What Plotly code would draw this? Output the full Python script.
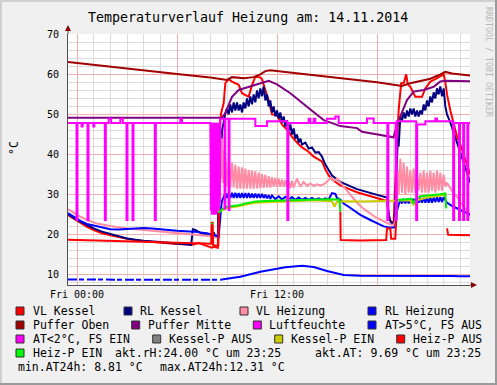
import plotly.graph_objects as go

# ---------------- figure geometry ----------------
W_FIG, H_FIG = 497, 385
L, R, T, B = 68, 27, 34, 100

title_text = "Temperaturverlauf Heizung am: 14.11.2014"
x_tickvals = [0, 6, 12, 18]
x_ticktext = ["Fri 00:00", "", "Fri 12:00", ""]
y_tickvals = [10, 20, 30, 40, 50, 60, 70]
x_range = [-0.54, 23.58]
y_range = [7.5, 70.05]

# ---------------- data (hours since Fri 00:00, °C) ----------------
vl_kessel = [(-0.54,24.9),(-0.2,24.0),(0.2,23.0),(0.6,22.0),(1.0,21.2),(1.5,20.4),(2.0,19.9),(2.5,19.4),(3.0,19.0),(4.0,18.4),
             (5.0,18.0),(6.0,17.7),(7.0,17.6),(7.3,18.0),(7.6,17.5),(7.9,17.0),(8.1,16.8),(8.2,17.0),(8.3,16.9),(8.45,16.8),
             (8.5,30.0),(8.55,47.0),(8.65,50.4),(8.8,52.8),(8.9,57.8),(9.1,58.8),(9.3,58.2),(9.7,57.4),(9.9,55.3),(10.3,54.4),
             (10.5,57.3),(10.7,59.4),(11.0,59.2),(11.1,58.8),(11.3,56.1),(11.5,53.5),(11.7,50.0),(12.0,49.8),(12.3,47.5),(12.6,46.2),
             (12.9,44.5),(13.2,43.0),(13.5,41.8),(13.8,41.0),(14.2,39.5),(14.7,38.3),(14.9,36.3),(15.1,34.8),(15.3,33.8),(15.8,32.3),
             (16.8,30.6),(17.8,29.4),(18.6,28.4),(18.7,25.0),(18.8,23.5),(19.0,23.0),(19.05,28.0),(19.1,36.0),(19.2,43.6),(19.3,51.1),
             (19.45,57.8),(19.6,57.8),(19.75,60.0),(19.85,57.5),(20.0,56.9),(20.3,54.4),(20.7,54.4),(20.9,56.5),(21.2,58.2),(21.5,58.8),
             (21.8,59.5),(22.0,60.0),(22.1,58.0),(22.2,55.0),(22.4,51.0),(22.6,48.0),(22.8,44.5),(23.0,42.5),(23.2,40.0),(23.4,37.5),(23.6,35.0)]

rl_kessel = [(-0.54,25.2),(-0.2,24.2),(0.2,23.3),(0.6,22.4),(1.0,21.6),(1.5,20.8),(2.0,20.2),(2.5,19.6),(3.0,19.1),(3.5,18.8),
             (4.0,18.5),(5.0,18.2),(6.0,17.8),(6.85,17.5),(6.95,21.4),(7.1,21.2),(7.4,20.5),(7.8,19.9),(8.1,19.7),(8.2,20.6),
             (8.3,19.6),(8.45,19.5),(8.5,30.0),(8.55,38.0),(8.6,42.0),(8.65,39.0),(8.7,46.0),(8.8,48.0),(8.9,50.3),
             (9.0,51.5),(9.1,50.0),(9.2,52.5),(9.3,50.5),(9.4,53.0),(9.5,51.0),(9.6,53.0),(9.7,51.0),(9.8,52.5),(9.9,50.5),
             (10.0,53.0),(10.1,51.5),(10.2,54.0),(10.3,52.0),(10.4,54.5),(10.5,52.5),(10.6,55.0),(10.7,53.0),(10.8,56.0),(10.9,54.0),
             (11.0,56.5),(11.1,54.5),(11.2,57.0),(11.3,53.5),(11.4,55.0),(11.5,52.0),(11.6,53.5),(11.7,50.5),(11.8,52.0),(11.9,49.5),
             (12.0,51.0),(12.1,49.0),(12.2,50.5),(12.3,48.0),(12.4,49.5),(12.5,47.0),(12.6,48.5),(12.7,46.0),(12.8,47.5),(12.9,45.0),
             (13.0,46.5),(13.1,44.0),(13.2,45.0),(13.3,43.0),(13.4,44.0),(13.5,42.5),(13.7,43.0),(13.9,41.5),(14.1,41.8),(14.3,40.5),
             (14.5,40.6),(14.7,39.5),(14.9,37.5),(15.1,36.0),(15.3,34.8),(15.8,33.2),(16.8,31.4),(17.8,30.2),(18.6,29.3),(18.65,27.0),
             (18.75,24.0),(18.85,23.0),(19.0,22.8),(19.05,23.5),(19.1,30.0),(19.15,36.0),(19.2,40.0),(19.25,44.0),(19.3,42.0),(19.35,47.0),
             (19.4,49.5),(19.5,48.5),(19.6,50.5),(19.7,49.0),(19.8,51.0),(19.9,49.5),(20.0,51.5),(20.1,50.0),(20.2,51.5),(20.3,49.5),
             (20.4,51.0),(20.5,49.5),(20.6,51.0),(20.7,50.0),(20.8,52.5),(20.9,51.0),(21.0,53.5),(21.1,52.0),(21.2,54.5),(21.3,53.0),
             (21.4,55.5),(21.5,54.0),(21.6,56.5),(21.7,55.0),(21.8,57.0),(21.9,54.5),(22.0,56.5),(22.1,52.0),(22.2,50.0),(22.4,48.0),
             (22.6,45.5),(22.8,43.0),(23.0,40.5),(23.2,38.0),(23.4,35.5),(23.6,33.0)]

vl_heizung = [(-0.54,26.4),(0.0,25.0),(0.6,23.7),(1.2,22.8),(2.0,22.2),(3.0,21.6),(4.0,21.2),(5.0,20.8),(6.0,20.4),(7.0,20.0),
              (7.8,19.7),(8.2,19.6),(8.5,19.5),(8.55,32.0),(8.6,45.0),(8.65,34.0),(8.7,44.0),(8.75,33.0),(8.8,41.0),(8.85,32.5),
              (8.9,39.5),(9.0,32.0),(9.1,38.5),(9.2,31.8),(9.3,38.0),(9.4,31.8),(9.5,37.5),(9.6,31.5),(9.7,37.0),(9.8,31.5),
              (9.9,36.8),(10.0,31.5),(10.1,36.5),(10.2,31.5),(10.3,36.2),(10.4,31.5),(10.5,36.0),(10.6,31.5),(10.7,35.8),(10.8,31.6),
              (10.9,35.5),(11.0,31.6),(11.1,35.2),(11.2,31.7),(11.3,35.0),(11.4,31.8),(11.5,34.6),(11.6,31.8),(11.7,34.4),(11.8,32.0),
              (11.9,34.2),(12.0,32.0),(12.1,34.0),(12.2,32.0),(12.3,33.8),(12.4,32.0),(12.5,33.6),(12.6,32.0),(12.7,33.5),(12.8,31.6),
              (12.9,33.4),(13.0,31.8),(13.2,34.0),(13.4,32.0),(13.6,33.2),(13.8,32.2),(14.0,32.8),(14.2,32.2),(14.4,32.6),(14.6,32.3),
              (14.8,32.6),(15.0,33.2),(15.2,34.2),(15.4,33.4),(15.6,34.0),(15.8,33.0),(16.0,32.0),(16.2,31.0),(16.5,29.5),(16.8,28.0),
              (17.1,26.8),(17.4,25.8),(17.7,25.0),(18.0,24.2),(18.3,23.6),(18.6,23.0),(18.8,22.6),(19.0,22.5),(19.1,23.5),(19.2,28.0),
              (19.25,36.0),(19.3,30.0),(19.4,39.0),(19.5,30.5),(19.6,38.0),(19.7,30.0),(19.8,37.0),(19.9,30.5),(20.0,36.0),(20.1,30.5),
              (20.2,36.5),(20.3,30.5),(20.4,35.0),(20.5,31.0),(20.6,35.5),(20.7,30.5),(20.8,36.0),(20.9,30.5),(21.0,35.5),(21.1,30.5),
              (21.2,36.0),(21.3,31.0),(21.4,35.5),(21.5,30.5),(21.6,36.0),(21.7,31.0),(21.8,35.5),(21.9,31.0),(22.0,35.0),(22.1,32.0),
              (22.2,33.0),(22.5,31.0),(22.8,29.5),(23.1,27.5),(23.4,26.0),(23.6,25.0)]

rl_heizung = [(-0.54,25.4),(-0.2,24.5),(0.2,23.5),(0.6,22.7),(1.0,22.3),(1.5,21.8),(2.0,21.4),(2.5,21.3),(3.0,21.4),(3.5,21.6),
              (4.0,21.7),(4.5,21.6),(5.0,21.4),(6.0,21.0),(7.0,20.8),(7.8,20.4),(8.4,19.7),(8.5,19.5),(8.55,22.0),(8.6,26.0),
              (8.65,27.0),(8.7,28.5),(8.8,29.5),(8.9,30.4),(9.0,29.2),(9.1,30.5),(9.2,29.2),(9.3,30.5),(9.4,29.2),(9.5,30.5),
              (9.6,29.2),(9.7,30.4),(9.8,29.2),(9.9,30.4),(10.0,29.2),(10.1,30.4),(10.2,29.2),(10.3,30.4),(10.4,29.2),(10.5,30.3),
              (10.6,29.2),(10.7,30.3),(10.8,29.2),(10.9,30.2),(11.0,29.2),(11.1,30.2),(11.2,29.2),(11.3,30.0),(11.4,29.1),(11.5,29.9),
              (11.6,29.0),(11.7,29.8),(11.9,28.9),(12.1,29.6),(12.3,28.8),(12.5,29.5),(12.7,28.8),(12.9,29.4),(13.1,28.7),(13.3,29.3),
              (13.5,28.7),(13.7,29.2),(13.9,28.7),(14.1,29.2),(14.3,28.7),(14.5,29.1),(14.7,28.7),(14.9,29.1),(15.1,28.8),(15.3,30.4),
              (15.5,30.2),(15.6,29.2),(15.8,28.8),(16.0,27.8),(16.3,27.0),(16.6,26.2),(17.0,25.0),(17.6,23.7),(18.0,23.0),(18.4,22.1),
              (18.8,21.8),(19.0,21.8),(19.1,22.0),(19.2,26.0),(19.3,27.5),(19.4,28.8),(19.5,27.8),(19.6,29.0),(19.7,27.8),(19.8,29.0),
              (19.9,27.8),(20.0,29.0),(20.1,27.8),(20.2,29.0),(20.3,27.8),(20.4,29.0),(20.5,28.0),(20.6,29.2),(20.7,28.0),(20.8,29.2),
              (20.9,28.0),(21.0,29.2),(21.1,28.0),(21.2,29.3),(21.3,28.0),(21.4,29.3),(21.5,28.2),(21.6,29.4),(21.7,28.2),(21.8,29.4),
              (21.9,28.2),(22.0,29.4),(22.1,28.6),(22.2,28.0),(22.5,27.2),(22.8,26.5),(23.1,26.0),(23.4,25.4),(23.6,25.0)]

puffer_oben = [(-0.54,63.1),(2.0,62.0),(4.0,61.0),(6.0,60.1),(8.0,59.2),(8.6,58.9),(9.0,58.6),(9.3,59.3),(9.6,59.2),(10.0,59.0),
               (10.6,59.3),(11.0,60.0),(11.3,60.8),(11.6,61.0),(12.5,60.6),(14.0,59.9),(16.0,59.0),(18.0,58.0),(19.0,57.4),(19.5,57.1),
               (20.0,57.8),(20.6,58.3),(21.2,58.9),(21.8,60.0),(22.1,60.6),(22.5,60.2),(23.0,59.9),(23.6,59.7)]

puffer_mitte = [(-0.54,49.2),(8.7,49.2),(8.9,50.3),(9.3,54.4),(9.7,56.1),(10.3,56.9),(11.1,58.0),(11.5,58.4),(12.0,57.5),(12.8,55.3),
                (13.8,51.9),(14.8,48.6),(15.8,47.1),(16.8,46.6),(17.1,45.7),(18.0,45.0),(19.0,44.3),(19.1,46.0),(19.4,49.5),(19.8,53.6),
                (20.2,55.7),(20.8,56.1),(21.4,56.9),(21.8,58.2),(22.1,58.4),(23.6,58.3)]

luftfeuchte = [(-0.54,47.9),(-0.03,47.9),(-0.03,23.7),(0.03,23.7),(0.03,47.9),
               (0.28,47.9),(0.28,47.0),(0.34,47.0),(0.34,47.9),
               (0.63,47.9),(0.63,23.7),(0.69,23.7),(0.69,47.9),
               (0.98,47.9),(0.98,47.0),(1.04,47.0),(1.04,47.9),
               (1.67,47.9),(1.67,23.7),(1.73,23.7),(1.73,47.9),
               (1.9,47.9),(1.9,48.9),(2.05,48.9),(2.05,47.9),
               (2.6,47.9),(2.6,48.9),(2.75,48.9),(2.75,47.9),
               (2.97,47.9),(2.97,23.7),(3.03,23.7),(3.03,47.9),
               (3.33,47.9),(3.33,23.7),(3.39,23.7),(3.39,47.9),
               (4.67,47.9),(4.67,23.7),(4.73,23.7),(4.73,47.9),
               (6.2,47.9),(6.2,48.9),(6.3,48.9),(6.3,47.9),
               (8.0,47.9),(8.03,26.0),(8.06,47.9),(8.09,25.0),(8.12,47.9),(8.15,25.5),(8.18,47.9),(8.21,25.0),(8.24,47.9),
               (8.27,26.5),(8.30,47.9),(8.33,25.0),(8.36,47.9),(8.39,25.5),(8.42,47.9),(8.45,27.0),(8.48,47.9),(8.51,26.0),
               (8.54,47.9),(8.57,28.0),(8.60,48.9),
               (8.85,48.9),(8.85,26.5),(8.9,26.5),(8.9,48.9),
               (9.1,48.9),(9.1,26.2),(9.15,26.2),(9.15,48.9),
               (10.7,48.9),(10.7,47.1),(11.4,47.1),(11.4,48.3),
               (12.62,48.3),(12.62,23.7),(12.68,23.7),(12.68,47.9),
               (13.9,47.9),(13.9,48.9),(14.0,48.9),(14.0,47.9),
               (14.2,47.9),(14.2,48.9),(14.3,48.9),(14.3,47.9),
               (15.0,47.9),(15.0,48.9),(15.5,48.9),(15.5,49.5),(15.7,49.5),(15.7,47.9),
               (17.4,47.9),(17.4,49.0),(17.8,49.0),(17.8,47.9),
               (18.62,47.9),(18.62,23.7),(18.68,23.7),(18.68,47.9),
               (19.12,47.9),(19.12,23.7),(19.18,23.7),(19.18,48.3),
               (20.35,48.3),(20.35,23.7),(20.41,23.7),(20.41,47.5),
               (20.9,47.5),(20.9,48.3),(21.5,48.3),(21.5,49.0),(21.6,49.0),(21.6,48.3),
               (22.57,48.3),(22.57,23.7),(22.63,23.7),(22.63,47.9),
               (22.92,47.9),(22.92,23.7),(22.98,23.7),(22.98,47.9),
               (23.17,47.9),(23.17,23.7),(23.23,23.7),(23.23,47.9),
               (23.42,47.9),(23.42,23.7),(23.48,23.7),(23.48,47.9),(23.6,47.9)]

heiz_p_aus = [(-0.54,18.8),(2.0,18.6),(4.0,18.3),(6.0,18.0),(7.0,17.9),(8.05,17.8),(8.08,23.0),(8.14,23.0),(8.17,17.4),(8.48,17.3),
              (8.52,25.5),(None,None),
              (15.8,25.8),(15.82,18.7),(17.0,18.6),(18.55,18.7),(18.6,21.6),(18.8,21.6),(18.85,19.0),(19.1,19.0),(19.15,24.0),
              (None,None),
              (22.2,21.6),(22.27,20.0),(23.6,19.9)]

heiz_p_ein = [(8.08,22.7),(8.14,23.0),(None,None),
              (8.52,25.5),(8.7,26.4),(9.0,27.0),(9.7,27.4),(10.2,27.9),(10.7,28.3),(11.7,28.5),(12.5,28.6),(13.5,28.8),
              (14.3,28.9),(15.0,28.9),(15.75,28.8),(15.8,25.8),(None,None),
              (19.15,24.0),(19.2,28.7),(19.8,28.9),(20.1,29.0),(20.2,27.8),(20.35,29.0),(20.6,29.6),(21.2,29.8),(21.8,30.1),
              (22.1,30.3),(22.15,26.6)]

kessel_p_ein = [(8.05,25.8),(8.6,26.0),(8.7,26.1),(9.0,26.7),(9.7,27.1),(10.2,27.6),(10.7,28.0),(11.7,28.2),(12.5,28.3),(13.5,28.5),
                (14.3,28.6),(15.3,28.4),(15.45,27.0),(15.6,28.3),(16.0,28.4),(17.0,28.3),(18.0,28.4),(19.0,28.6),(19.2,28.5),
                (20.0,28.6),(20.2,27.5),(20.4,28.6),(21.0,29.3),(21.8,29.8),(22.1,30.0)]

at_dashed = [(-0.54,8.85),(1.0,8.85),(2.0,8.85),(3.0,8.9),(4.0,8.9),(5.0,8.9),(6.0,8.85),(7.0,8.85),(8.0,8.8),(8.6,8.81)]
at_solid = [(8.6,8.81),(9.0,9.1),(9.8,9.55),(11.0,10.8),(11.6,11.2),(12.5,11.9),(13.5,12.31),(14.2,12.0),(15.0,11.0),
            (16.0,10.0),(17.0,9.8),(18.0,9.8),(19.0,9.8),(20.0,9.8),(21.0,9.85),(21.5,9.9),(22.0,9.9),(22.5,9.75),
            (23.0,9.7),(23.6,9.69)]

# legend entries: (label, colour, swatch-x, text-x, row-y)   -- pixel layout of the rrdtool legend
legend_items = [
    ("VL Kessel", "#FF0000", 16, 30.7, 311), ("RL Kessel", "#000080", 124, 138.3, 311),
    ("VL Heizung", "#FF8CA3", 240, 254, 311), ("RL Heizung", "#0000FF", 368, 382.7, 311),
    ("Puffer Oben", "#A00000", 16, 30.7, 325), ("Puffer Mitte", "#800080", 131.7, 145.7, 325),
    ("Luftfeuchte", "#FF00FF", 253.3, 267.3, 325), ("AT&gt;5°C, FS AUS", "#0000FF", 368, 382.7, 325),
    ("AT&lt;2°C, FS EIN", "#FF00FF", 16, 30.7, 339), ("Kessel-P AUS", "#808080", 152.7, 166.7, 339),
    ("Kessel-P EIN", "#CCCC00", 274.7, 288.7, 339), ("Heiz-P AUS", "#FF0000", 396.7, 410.7, 339),
    ("Heiz-P EIN", "#00FF00", 16, 30.7, 353),
]
legend_texts = [
    ("akt.rH:24.00 °C um 23:25", 112.7, 353), ("akt.AT: 9.69 °C um 23:25", 312.7, 353),
    ("min.AT24h: 8.81 °C", 16, 367), ("max.AT24h:12.31 °C", 158, 367),
]

MONO = "DejaVu Sans Mono"
PW = W_FIG - L - R
PH = H_FIG - T - B


def px(x):
    return (x - L) / PW


def py(y):
    return 1 - (y - T) / PH


def xy(pairs):
    return [p[0] for p in pairs], [p[1] for p in pairs]


fig = go.Figure()


def add(pairs, color, width=2, dash=None):
    xs, ys = xy(pairs)
    fig.add_trace(go.Scatter(x=xs, y=ys, mode="lines", line=dict(color=color, width=width, dash=dash),
                             connectgaps=False, hoverinfo="skip", showlegend=False))


add(vl_kessel, "#FF0000")
add(rl_kessel, "#000080")
add(puffer_oben, "#A00000")
add(puffer_mitte, "#800080")
add(vl_heizung, "#FF8CA3")
add(rl_heizung, "#0000FF")
add(kessel_p_ein, "#CCCC00")
add(heiz_p_aus, "#FF0000")
add(heiz_p_ein, "#00EE00")
add(at_dashed, "#0000FF", dash="9px,2px,5px,3px")
add(at_solid, "#0000FF")
add(luftfeuchte, "#FF00FF")

shapes = []
annotations = []

# outer 3D frame
shapes += [
    dict(type="line", xref="paper", yref="paper", x0=px(0), x1=px(W_FIG), y0=py(1), y1=py(1), line=dict(color="#CFCFCF", width=2)),
    dict(type="line", xref="paper", yref="paper", x0=px(1), x1=px(1), y0=py(0), y1=py(H_FIG), line=dict(color="#CFCFCF", width=2)),
    dict(type="line", xref="paper", yref="paper", x0=px(0), x1=px(W_FIG), y0=py(H_FIG - 1), y1=py(H_FIG - 1), line=dict(color="#9A9A9A", width=2)),
    dict(type="line", xref="paper", yref="paper", x0=px(W_FIG - 1), x1=px(W_FIG - 1), y0=py(0), y1=py(H_FIG), line=dict(color="#9A9A9A", width=2)),
]
# axis extensions + arrows
shapes += [
    dict(type="line", xref="paper", yref="paper", x0=px(L), x1=px(L), y0=py(T), y1=py(29), line=dict(color="#505050", width=1)),
    dict(type="line", xref="paper", yref="paper", x0=px(W_FIG - R), x1=px(473), y0=py(T + PH), y1=py(T + PH), line=dict(color="#505050", width=1)),
    dict(type="path", xref="paper", yref="paper",
         path=f"M {px(L-3)} {py(31)} L {px(L+3)} {py(31)} L {px(L)} {py(25)} Z", fillcolor="#8B0000", line=dict(width=0)),
    dict(type="path", xref="paper", yref="paper",
         path=f"M {px(471)} {py(T+PH-3)} L {px(471)} {py(T+PH+3)} L {px(477)} {py(T+PH)} Z", fillcolor="#8B0000", line=dict(width=0)),
]

# legend
for label, col, sx, tx, ry in legend_items:
    shapes.append(dict(type="rect", xref="paper", yref="paper", x0=px(sx), x1=px(sx + 8), y0=py(ry + 4), y1=py(ry - 4),
                       fillcolor=col, line=dict(color="#303030", width=1)))
    annotations.append(dict(text=label, xref="paper", yref="paper", x=px(tx), y=py(ry), xanchor="left", yanchor="middle",
                            showarrow=False, font=dict(family=MONO, size=11.5, color="#000000")))
for label, tx, ry in legend_texts:
    annotations.append(dict(text=label, xref="paper", yref="paper", x=px(tx), y=py(ry), xanchor="left", yanchor="middle",
                            showarrow=False, font=dict(family=MONO, size=11.5, color="#000000")))

annotations += [
    dict(text=title_text, xref="paper", yref="paper", x=px(248), y=py(17), xanchor="center", yanchor="middle",
         showarrow=False, font=dict(family=MONO, size=13.3, color="#000000")),
    dict(text="°C", xref="paper", yref="paper", x=px(14), y=py(148), xanchor="center", yanchor="middle", textangle=-90,
         showarrow=False, font=dict(family=MONO, size=11.5, color="#000000")),
    dict(text="RRDTOOL / TOBI OETIKER", xref="paper", yref="paper", x=px(489), y=py(62), xanchor="center", yanchor="middle",
         textangle=90, showarrow=False, font=dict(family=MONO, size=8.3, color="#B8B8B8")),
]

MAJOR = "#F2AFAF"
MINOR = "#DCDCDC"

fig.update_layout(
    width=W_FIG, height=H_FIG,
    margin=dict(l=L, r=R, t=T, b=B, pad=0),
    paper_bgcolor="#F0F0F0", plot_bgcolor="#FFFFFF",
    showlegend=False,
    shapes=shapes, annotations=annotations,
    font=dict(family=MONO, size=10, color="#000000"),
    xaxis=dict(range=x_range, tickmode="array", tickvals=x_tickvals, ticktext=x_ticktext,
               showgrid=True, gridcolor=MAJOR, gridwidth=1, zeroline=False,
               showline=True, linecolor="#505050", linewidth=1, ticks="",
               tickfont=dict(family=MONO, size=10, color="#000000"),
               minor=dict(tickmode="linear", tick0=0, dtick=1, showgrid=True, gridcolor=MINOR, gridwidth=1),
               fixedrange=True),
    yaxis=dict(range=y_range, tickmode="array", tickvals=y_tickvals,
               showgrid=True, gridcolor=MAJOR, gridwidth=1, zeroline=False,
               showline=True, linecolor="#505050", linewidth=1, ticks="", ticklabelstandoff=6,
               tickfont=dict(family=MONO, size=10, color="#000000"),
               minor=dict(tickmode="linear", tick0=0, dtick=2, showgrid=True, gridcolor=MINOR, gridwidth=1),
               fixedrange=True),
)

fig.write_html("out.html", config={"displayModeBar": False},
               post_script="document.body.style.margin='0px';")
